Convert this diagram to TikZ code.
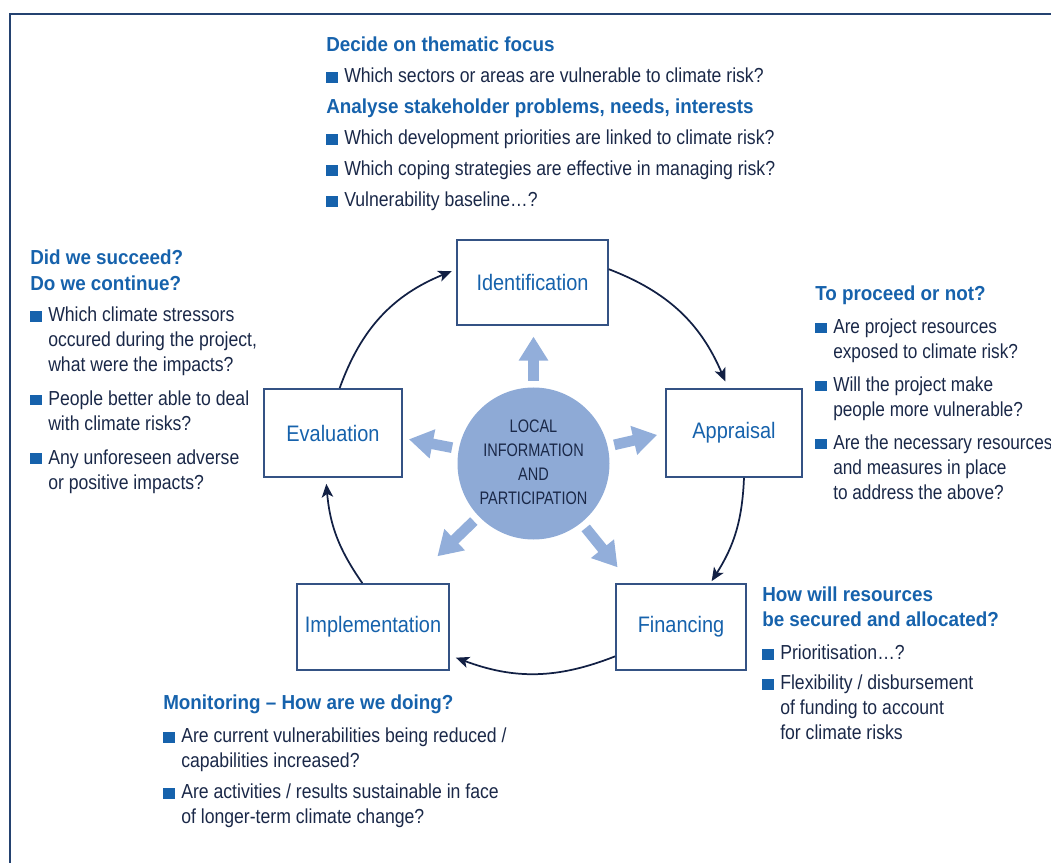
\documentclass[tikz,border=0pt]{standalone}
\usepackage{fontspec}
\usetikzlibrary{arrows.meta}
\newfontfamily\cond[FakeStretch=0.87]{Liberation Sans}
\newfontfamily\condnarrow[FakeStretch=0.85]{Liberation Sans}
\newfontfamily\condhead[FakeStretch=0.93]{Liberation Sans Bold}
\newfontfamily\boxfont[FakeStretch=0.89]{Liberation Sans}
\newfontfamily\hubfont[FakeStretch=0.8]{Liberation Sans}
\definecolor{headblue}{RGB}{22,98,172}
\definecolor{textnavy}{RGB}{26,40,72}
\definecolor{boxline}{RGB}{52,82,132}
\definecolor{arcnavy}{RGB}{18,32,68}
\definecolor{hubfill}{RGB}{142,170,214}
\definecolor{spokefill}{RGB}{146,174,218}
\definecolor{frameline}{RGB}{36,66,112}
\newcommand{\hd}[1]{{\condhead\color{headblue}#1}}
\newcommand{\sq}{\makebox[13.5pt][l]{\textcolor{headblue}{\rule{8.5pt}{8pt}}}}
\newcommand{\ind}{\hspace*{13.5pt}}
\begin{document}
\begin{tikzpicture}[x=0.75pt,y=-0.75pt,
  stage/.style={draw=boxline,line width=1.3pt,fill=white,text=headblue,inner sep=0pt,
    font=\boxfont\fontsize{16.8pt}{20pt}\selectfont},
  hub/.style={circle,fill=hubfill,minimum size=114pt,inner sep=0pt,
    text=textnavy,font=\hubfont\fontsize{13.6pt}{18pt}\selectfont},
  notes/.style={anchor=north west,inner sep=0pt,align=left,text=textnavy,
    font=\cond\fontsize{15.2pt}{18.75pt}\selectfont},
  loopline/.style={arcnavy,line width=1.3pt,-{Stealth[length=10pt,width=8.5pt,inset=2.5pt]}},
  spoke/.style={spokefill,line width=8pt,-{Triangle[length=18pt,width=21pt]}}]
  \useasboundingbox (0,0) rectangle (1051,863);
  \draw [frameline,line width=1.8pt] (1060,13.8) -- (9.7,13.8) -- (9.7,870);

  % project cycle
  \node [stage,minimum width=113pt,minimum height=64pt] (ident) at (532.5,282.5) {Identification};
  \node [stage,minimum width=102pt,minimum height=66pt] (appr)  at (734,433)     {Appraisal};
  \node [stage,minimum width=97.5pt,minimum height=64.5pt] (fin) at (681,627)   {Financing};
  \node [stage,minimum width=114pt,minimum height=64.5pt] (impl) at (373,627)   {Implementation};
  \node [stage,minimum width=103.5pt,minimum height=66pt] (eval) at (333,433)   {Evaluation};

  \node [hub] (hub) at (533.5,463.5) {\raisebox{3pt}{\begin{tabular}{@{}c@{}}
    LOCAL\\INFORMATION\\AND\\PARTICIPATION\end{tabular}}};
  \foreach \a/\l in {90/33,13/33,169/33,224/38,309/38}
    \draw [spoke] ([shift={(\a:5pt)}]hub.\a) -- ++(\a:\l pt);

  \draw [loopline] ([xshift=5pt]eval.north) to[bend left=24] ([yshift=8.5pt,xshift=-3.5pt]ident.west);
  \draw [loopline] ([yshift=10pt]ident.east) to[bend left=23] ([xshift=-6.5pt,yshift=5pt]appr.north);
  \draw [loopline] ([xshift=7.5pt]appr.south) to[bend left=15] ([xshift=23pt,yshift=1.5pt]fin.north);
  \draw [loopline] ([yshift=-22pt]fin.west) to[bend left=21] ([yshift=-23pt,xshift=4.5pt]impl.east);
  \draw [loopline] ([xshift=-8pt]impl.north) to[bend left=15] ([xshift=-5pt,yshift=-4.5pt]eval.south);

  % questions
  \node [notes] (focus) at (326,36.7) {\hd{Decide on thematic focus}\\[4.5pt]
    \sq Which sectors or areas are vulnerable to climate risk?\\[4.5pt]
    \hd{Analyse stakeholder problems, needs, interests}\\[4.5pt]
    \sq Which development priorities are linked to climate risk?\\[4.5pt]
    \sq Which coping strategies are effective in managing risk?\\[4.5pt]
    \sq Vulnerability baseline…?};
  \node [notes,font=\condnarrow\fontsize{15.2pt}{18.75pt}\selectfont] (proceed) at (815,286)
    {\hd{To proceed or not?}\\[5.5pt]
    \sq Are project resources\\
    \ind exposed to climate risk?\\[6pt]
    \sq Will the project make\\
    \ind people more vulnerable?\\[6pt]
    \sq Are the necessary resources\\
    \ind and measures in place\\
    \ind to address the above?};
  \node [notes] (funds) at (762,586.7) {\hd{How will resources}\\
    \hd{be secured and allocated?}\\[6.25pt]
    \sq Prioritisation…?\\[3.75pt]
    \sq Flexibility / disbursement\\
    \ind of funding to account\\
    \ind for climate risks};
  \node [notes] (monitor) at (163,695) {\hd{Monitoring – How are we doing?}\\[6pt]
    \sq Are current vulnerabilities being reduced /\\
    \ind capabilities increased?\\[4.5pt]
    \sq Are activities / results sustainable in face\\
    \ind of longer-term climate change?};
  \node [notes] (review) at (30,250) {\hd{Did we succeed?}\\[0.75pt]
    \hd{Do we continue?}\\[4.3pt]
    \sq Which climate stressors\\
    \ind occured during the project,\\
    \ind what were the impacts?\\[6.5pt]
    \sq People better able to deal\\
    \ind with climate risks?\\[6.5pt]
    \sq Any unforeseen adverse\\
    \ind or positive impacts?};
\end{tikzpicture}
\end{document}
